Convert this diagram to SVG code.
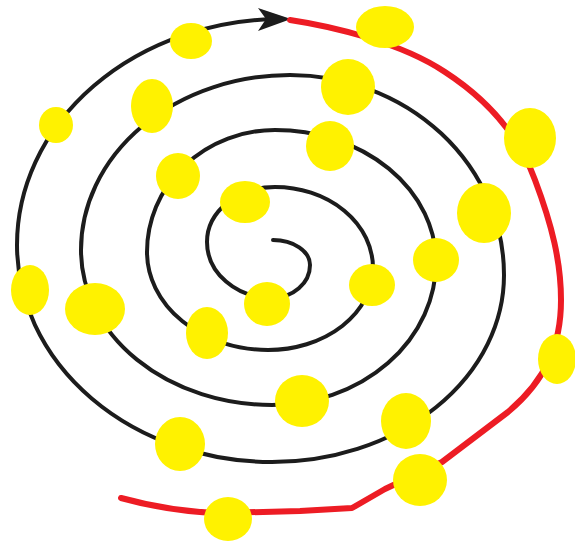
<svg xmlns="http://www.w3.org/2000/svg" width="575" height="542" viewBox="0 0 575 542">
  <style>
    .spiral { fill: none; stroke: #1c1c1c; stroke-width: 4; stroke-linecap: round; }
    .red { fill: none; stroke: #ED1C24; stroke-width: 6; stroke-linecap: round; stroke-linejoin: round; }
    .dot { fill: #FFF200; }
  </style>
  <rect width="575" height="542" fill="#ffffff"/>
  <g id="connectors">
    <path class="spiral" d="M273,240 A37,25 0 0 1 310,265 A38,33 0 0 1 272,298 A65,56 0 0 1 207,242 A68,55 0 0 1 275,187 A98,81 0 0 1 373,268 A105,82 0 0 1 268,350 A121,98 0 0 1 147,252 A128,122 0 0 1 275,130 A161,132 0 0 1 436,262 A164,143 0 0 1 272,405 A191,155 0 0 1 81,250 A209,175 0 0 1 290,75 A214,200 0 0 1 504,275 A232,187 0 0 1 272,462 A255,217 0 0 1 17,245 A265,226 0 0 1 280,19"/>
    <polygon fill="#1c1c1c" points="291,19 258,8 266,19 258,31"/>
    <path class="red" d="M290,20 C330,26 400,42 445,72 C485,98 518,133 535,180 C552,225 561,262 561,300 C561,345 546,380 508,412 L442,462 L385,489 L352,508 L300,511 L220,513 C180,512 150,506 121,498"/>
  </g>
  <g id="nodes">
    <ellipse id="n1" class="dot" cx="191" cy="41" rx="21" ry="18"/>
    <ellipse id="n2" class="dot" cx="56" cy="125" rx="17" ry="18"/>
    <ellipse id="n3" class="dot" cx="152" cy="106" rx="21" ry="27"/>
    <ellipse id="n4" class="dot" cx="178" cy="176" rx="22" ry="23"/>
    <ellipse id="n5" class="dot" cx="245" cy="202" rx="25" ry="21"/>
    <ellipse id="n6" class="dot" cx="30" cy="290" rx="19" ry="25"/>
    <ellipse id="n7" class="dot" cx="95" cy="309" rx="30" ry="26"/>
    <ellipse id="n8" class="dot" cx="207" cy="333" rx="21" ry="26"/>
    <ellipse id="n9" class="dot" cx="267" cy="304" rx="23" ry="22"/>
    <ellipse id="n10" class="dot" cx="372" cy="285" rx="23" ry="21"/>
    <ellipse id="n11" class="dot" cx="436" cy="260" rx="23" ry="22"/>
    <ellipse id="n12" class="dot" cx="330" cy="146" rx="24" ry="25"/>
    <ellipse id="n13" class="dot" cx="348" cy="87" rx="27" ry="28"/>
    <ellipse id="n14" class="dot" cx="385" cy="27" rx="29" ry="21"/>
    <ellipse id="n15" class="dot" cx="530" cy="138" rx="26" ry="30"/>
    <ellipse id="n16" class="dot" cx="484" cy="213" rx="27" ry="30"/>
    <ellipse id="n17" class="dot" cx="557" cy="359" rx="19" ry="25"/>
    <ellipse id="n18" class="dot" cx="302" cy="401" rx="27" ry="26"/>
    <ellipse id="n19" class="dot" cx="406" cy="421" rx="25" ry="28"/>
    <ellipse id="n20" class="dot" cx="420" cy="480" rx="27" ry="26"/>
    <ellipse id="n21" class="dot" cx="180" cy="444" rx="25" ry="27"/>
    <ellipse id="n22" class="dot" cx="228" cy="519" rx="24" ry="22"/>
  </g>
</svg>
